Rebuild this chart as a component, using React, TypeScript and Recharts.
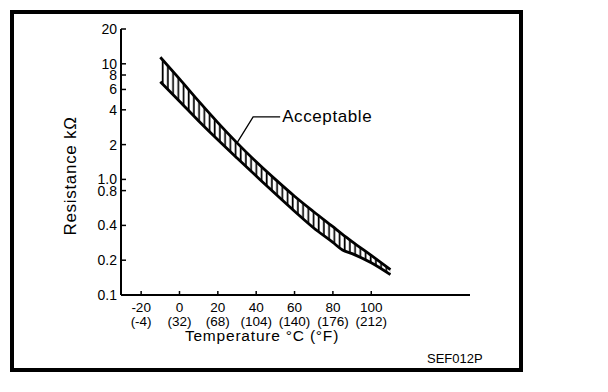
import React from 'react';
import { ComposedChart, Line, Area, XAxis, YAxis, ReferenceDot } from 'recharts';

// Temperature (°C) sample points along the acceptable band
const temps = [-10, 0, 10, 20, 30, 40, 50, 60, 70, 80, 85, 90, 100, 110];
// Upper limit of acceptable resistance (kΩ)
const upperK = [11.4, 7.4, 4.75, 3.1, 2.07, 1.42, 1.0, 0.715, 0.525, 0.39, 0.335, 0.29, 0.22, 0.166];
// Lower limit of acceptable resistance (kΩ)
const lowerK = [7.0, 4.75, 3.2, 2.2, 1.53, 1.07, 0.75, 0.53, 0.38, 0.285, 0.245, 0.228, 0.19, 0.15];

const xTicksC = [-20, 0, 20, 40, 60, 80, 100];
const xTicksF = ['(-4)', '(32)', '(68)', '(104)', '(140)', '(176)', '(212)'];
const yTicks = [0.1, 0.2, 0.4, 0.8, 1.0, 2, 4, 6, 8, 10, 20];
const yTickLabels = ['0.1', '0.2', '0.4', '0.8', '1.0', '2', '4', '6', '8', '10', '20'];

// Leader line for the "Acceptable" callout (data coordinates)
const leaderT = [30, 38.4, 52.5];
const leaderR = [2.07, 3.47, 3.47];
const calloutText = 'Acceptable';

const FONT = '"Liberation Sans", Arial, Helvetica, sans-serif';

const data = temps.map((t, i) => ({
  t,
  upper: upperK[i],
  lower: lowerK[i],
  band: [lowerK[i], upperK[i]],
}));
const leader = leaderT.map((t, i) => ({ t, lead: leaderR[i] }));

const XTick = (props: any) => {
  const { x, y, payload } = props;
  const i = xTicksC.indexOf(payload.value);
  return (
    <g>
      <text x={x} y={y + 17} textAnchor="middle" fontFamily={FONT} fontSize={13.5} fill="#000">
        {String(payload.value)}
      </text>
      <text x={x} y={y + 31} textAnchor="middle" fontFamily={FONT} fontSize={13.5} fill="#000">
        {xTicksF[i]}
      </text>
    </g>
  );
};

const XLabel = (props: any) => {
  const vb = props.viewBox || {};
  return (
    <text
      x={vb.x + 141}
      y={vb.y + 46}
      textAnchor="middle"
      fontFamily={FONT}
      fontSize={15.5}
      letterSpacing={0.8}
      fill="#000"
    >
      Temperature °C (°F)
    </text>
  );
};

const YLabel = (props: any) => {
  const vb = props.viewBox || {};
  const cx = vb.x + 70;
  const cy = 176;
  return (
    <text
      x={cx}
      y={cy}
      transform={`rotate(-90 ${cx} ${cy})`}
      textAnchor="middle"
      dominantBaseline="central"
      fontFamily={FONT}
      fontSize={17}
      letterSpacing={0.7}
      fill="#000"
    >
      Resistance  kΩ
    </text>
  );
};

const CalloutLabel = (props: any) => {
  const vb = props.viewBox || {};
  const x = (vb.x ?? 0) + (vb.width ?? 0) / 2 + 2;
  const y = (vb.y ?? 0) + (vb.height ?? 0) / 2;
  return (
    <text
      x={x}
      y={y}
      dominantBaseline="central"
      fontFamily={FONT}
      fontSize={17}
      letterSpacing={0.6}
      fill="#000"
    >
      {calloutText}
    </text>
  );
};

export default function App() {
  return (
    <div style={{ position: 'absolute', left: 0, top: 0, width: 608, height: 392, background: '#fff' }}>
      <ComposedChart
        width={608}
        height={392}
        data={data}
        margin={{ top: 29, right: 138, bottom: 57, left: 0 }}
      >
        <defs>
          <pattern id="hatch" patternUnits="userSpaceOnUse" width={5.2} height={10}>
            <line x1={1.5} y1={0} x2={1.5} y2={10} stroke="#000" strokeWidth={1.7} />
          </pattern>
        </defs>
        <XAxis
          dataKey="t"
          type="number"
          domain={[-30.5, 151.5]}
          ticks={xTicksC}
          interval={0}
          allowDataOverflow
          height={40}
          tickSize={-4}
          tickMargin={4}
          tick={<XTick />}
          axisLine={{ stroke: '#000', strokeWidth: 2 }}
          tickLine={{ stroke: '#000', strokeWidth: 1.5 }}
          label={<XLabel />}
        />
        <YAxis
          type="number"
          scale="log"
          domain={[0.1, 20]}
          ticks={yTicks}
          interval={0}
          allowDataOverflow
          width={121}
          tickSize={-5}
          tickMargin={9}
          tickFormatter={(v: number) => yTickLabels[yTicks.indexOf(v)]}
          tick={{ fill: '#000', fontSize: 14, fontFamily: FONT }}
          axisLine={{ stroke: '#000', strokeWidth: 2 }}
          tickLine={{ stroke: '#000', strokeWidth: 1.5 }}
          label={<YLabel />}
        />
        <Area
          dataKey="band"
          type="monotone"
          fill="url(#hatch)"
          fillOpacity={1}
          stroke="none"
          isAnimationActive={false}
          dot={false}
          activeDot={false}
        />
        <Line
          dataKey="upper"
          type="monotone"
          stroke="#000"
          strokeWidth={2.8}
          dot={false}
          activeDot={false}
          isAnimationActive={false}
        />
        <Line
          dataKey="lower"
          type="monotone"
          stroke="#000"
          strokeWidth={2.8}
          dot={false}
          activeDot={false}
          isAnimationActive={false}
        />
        <Line
          data={leader}
          dataKey="lead"
          type="linear"
          stroke="#000"
          strokeWidth={1.3}
          dot={false}
          activeDot={false}
          isAnimationActive={false}
        />
        <ReferenceDot
          x={leaderT[2]}
          y={leaderR[2]}
          r={1}
          fill="none"
          stroke="none"
          label={<CalloutLabel />}
        />
      </ComposedChart>
      <div
        style={{
          position: 'absolute',
          left: 10,
          top: 10,
          width: 513,
          height: 362,
          border: '4px solid #000',
          boxSizing: 'border-box',
          pointerEvents: 'none',
        }}
      />
      <div
        style={{
          position: 'absolute',
          left: 427,
          top: 351,
          fontFamily: FONT,
          fontSize: 13,
          lineHeight: '15px',
          color: '#000',
        }}
      >
        SEF012P
      </div>
    </div>
  );
}
